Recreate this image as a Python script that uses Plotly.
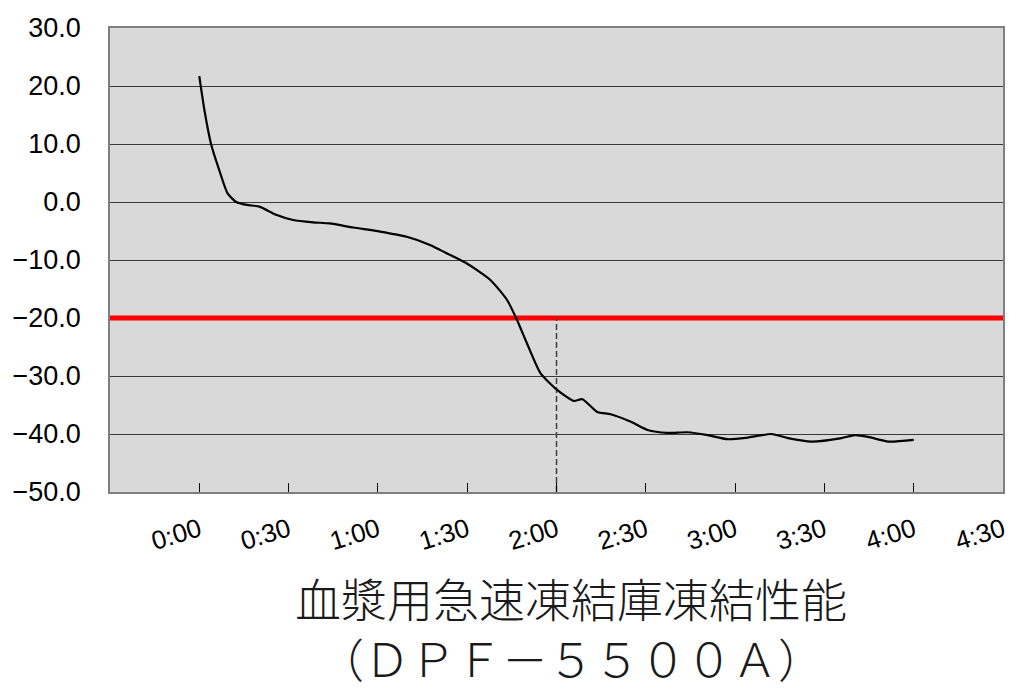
import plotly.graph_objects as go

# Freezer temperature log: elapsed minutes vs. temperature (°C)
elapsed_min = [0, 1.7, 3.9, 6.7, 9.5, 12.4, 16, 20.2, 25.8, 31.5, 38.2, 43.8, 51.7,
               60.7, 69.7, 77.5, 81, 89.9, 97.7, 103.4, 106.7, 110.1, 114.6, 120.2,
               125.8, 128.7, 133.7, 138.2, 145, 150.6, 157.3, 164, 170.8, 177.5,
               184.4, 192.2, 197.8, 205.7, 215.8, 220.2, 224.7, 231.5, 240]
temperature = [21.7, 15.9, 10.1, 5.5, 1.5, 0.0, -0.5, -0.8, -2.2, -3.1, -3.5, -3.7, -4.4,
               -5.1, -6.0, -7.4, -8.3, -10.6, -13.4, -16.9, -20.3, -24.4, -29.5, -32.4,
               -34.3, -34.0, -36.2, -36.6, -37.9, -39.3, -39.8, -39.7, -40.2, -40.9,
               -40.6, -40.0, -40.7, -41.3, -40.7, -40.2, -40.5, -41.3, -41.0]

# Target line and the time marker
target_temp = -20
marker_min = 120

# Axis ticks
x_tick_vals = [0, 30, 60, 90, 120, 150, 180, 210, 240, 270]
x_tick_text = ["0:00", "0:30", "1:00", "1:30", "2:00", "2:30", "3:00", "3:30", "4:00", "4:30"]
x_range = [-30, 270]
y_range = [-50, 30]

title_line1 = "血漿用急速凍結庫凍結性能"
title_line2 = "（ＤＰＦ－５５００Ａ）"

fig = go.Figure()

fig.add_trace(go.Scatter(
    x=x_range, y=[target_temp, target_temp], mode="lines",
    line=dict(color="#FF0000", width=5), hoverinfo="skip", showlegend=False,
))
fig.add_trace(go.Scatter(
    x=[marker_min, marker_min], y=[y_range[0], target_temp], mode="lines",
    line=dict(color="#404040", width=1.5, dash="6px,3px"), hoverinfo="skip", showlegend=False,
))
fig.add_trace(go.Scatter(
    x=elapsed_min, y=temperature, mode="lines",
    line=dict(color="#000000", width=2.2, shape="spline", smoothing=0.6),
    showlegend=False,
))

fig.update_xaxes(
    range=x_range, tickvals=x_tick_vals, ticktext=x_tick_text,
    tickangle=-17, ticks="inside", ticklen=9, tickcolor="#000000", tickwidth=1,
    ticklabelstandoff=11,
    showgrid=False, zeroline=False,
    showline=True, linecolor="#7f7f7f", linewidth=1.5, mirror=True,
    tickfont=dict(family="Liberation Sans, Arial", size=26, color="#000000"),
)
fig.update_yaxes(
    range=y_range, dtick=10, tickformat=".1f",
    showgrid=True, gridcolor="#3a3a3a", gridwidth=1, zeroline=False,
    showline=True, linecolor="#7f7f7f", linewidth=1.5, mirror=True,
    ticks="", ticklabelstandoff=22,
    tickfont=dict(family="Liberation Sans, Arial", size=27, color="#000000"),
)

# Two-line caption below the chart
title_font = dict(family="Noto Sans CJK JP", size=46, color="#1a1a1a", weight=300)
fig.add_annotation(text=title_line1 + "<br>" + title_line2,
                   xref="paper", yref="paper", x=0.516, y=-0.29,
                   xanchor="center", yanchor="middle", align="center",
                   showarrow=False, borderpad=0, font=title_font)

fig.update_layout(
    width=1027, height=695,
    margin=dict(l=110, r=24, t=28, b=203),
    plot_bgcolor="#D9D9D9", paper_bgcolor="#FFFFFF",
)

fig.write_html("out.html")
